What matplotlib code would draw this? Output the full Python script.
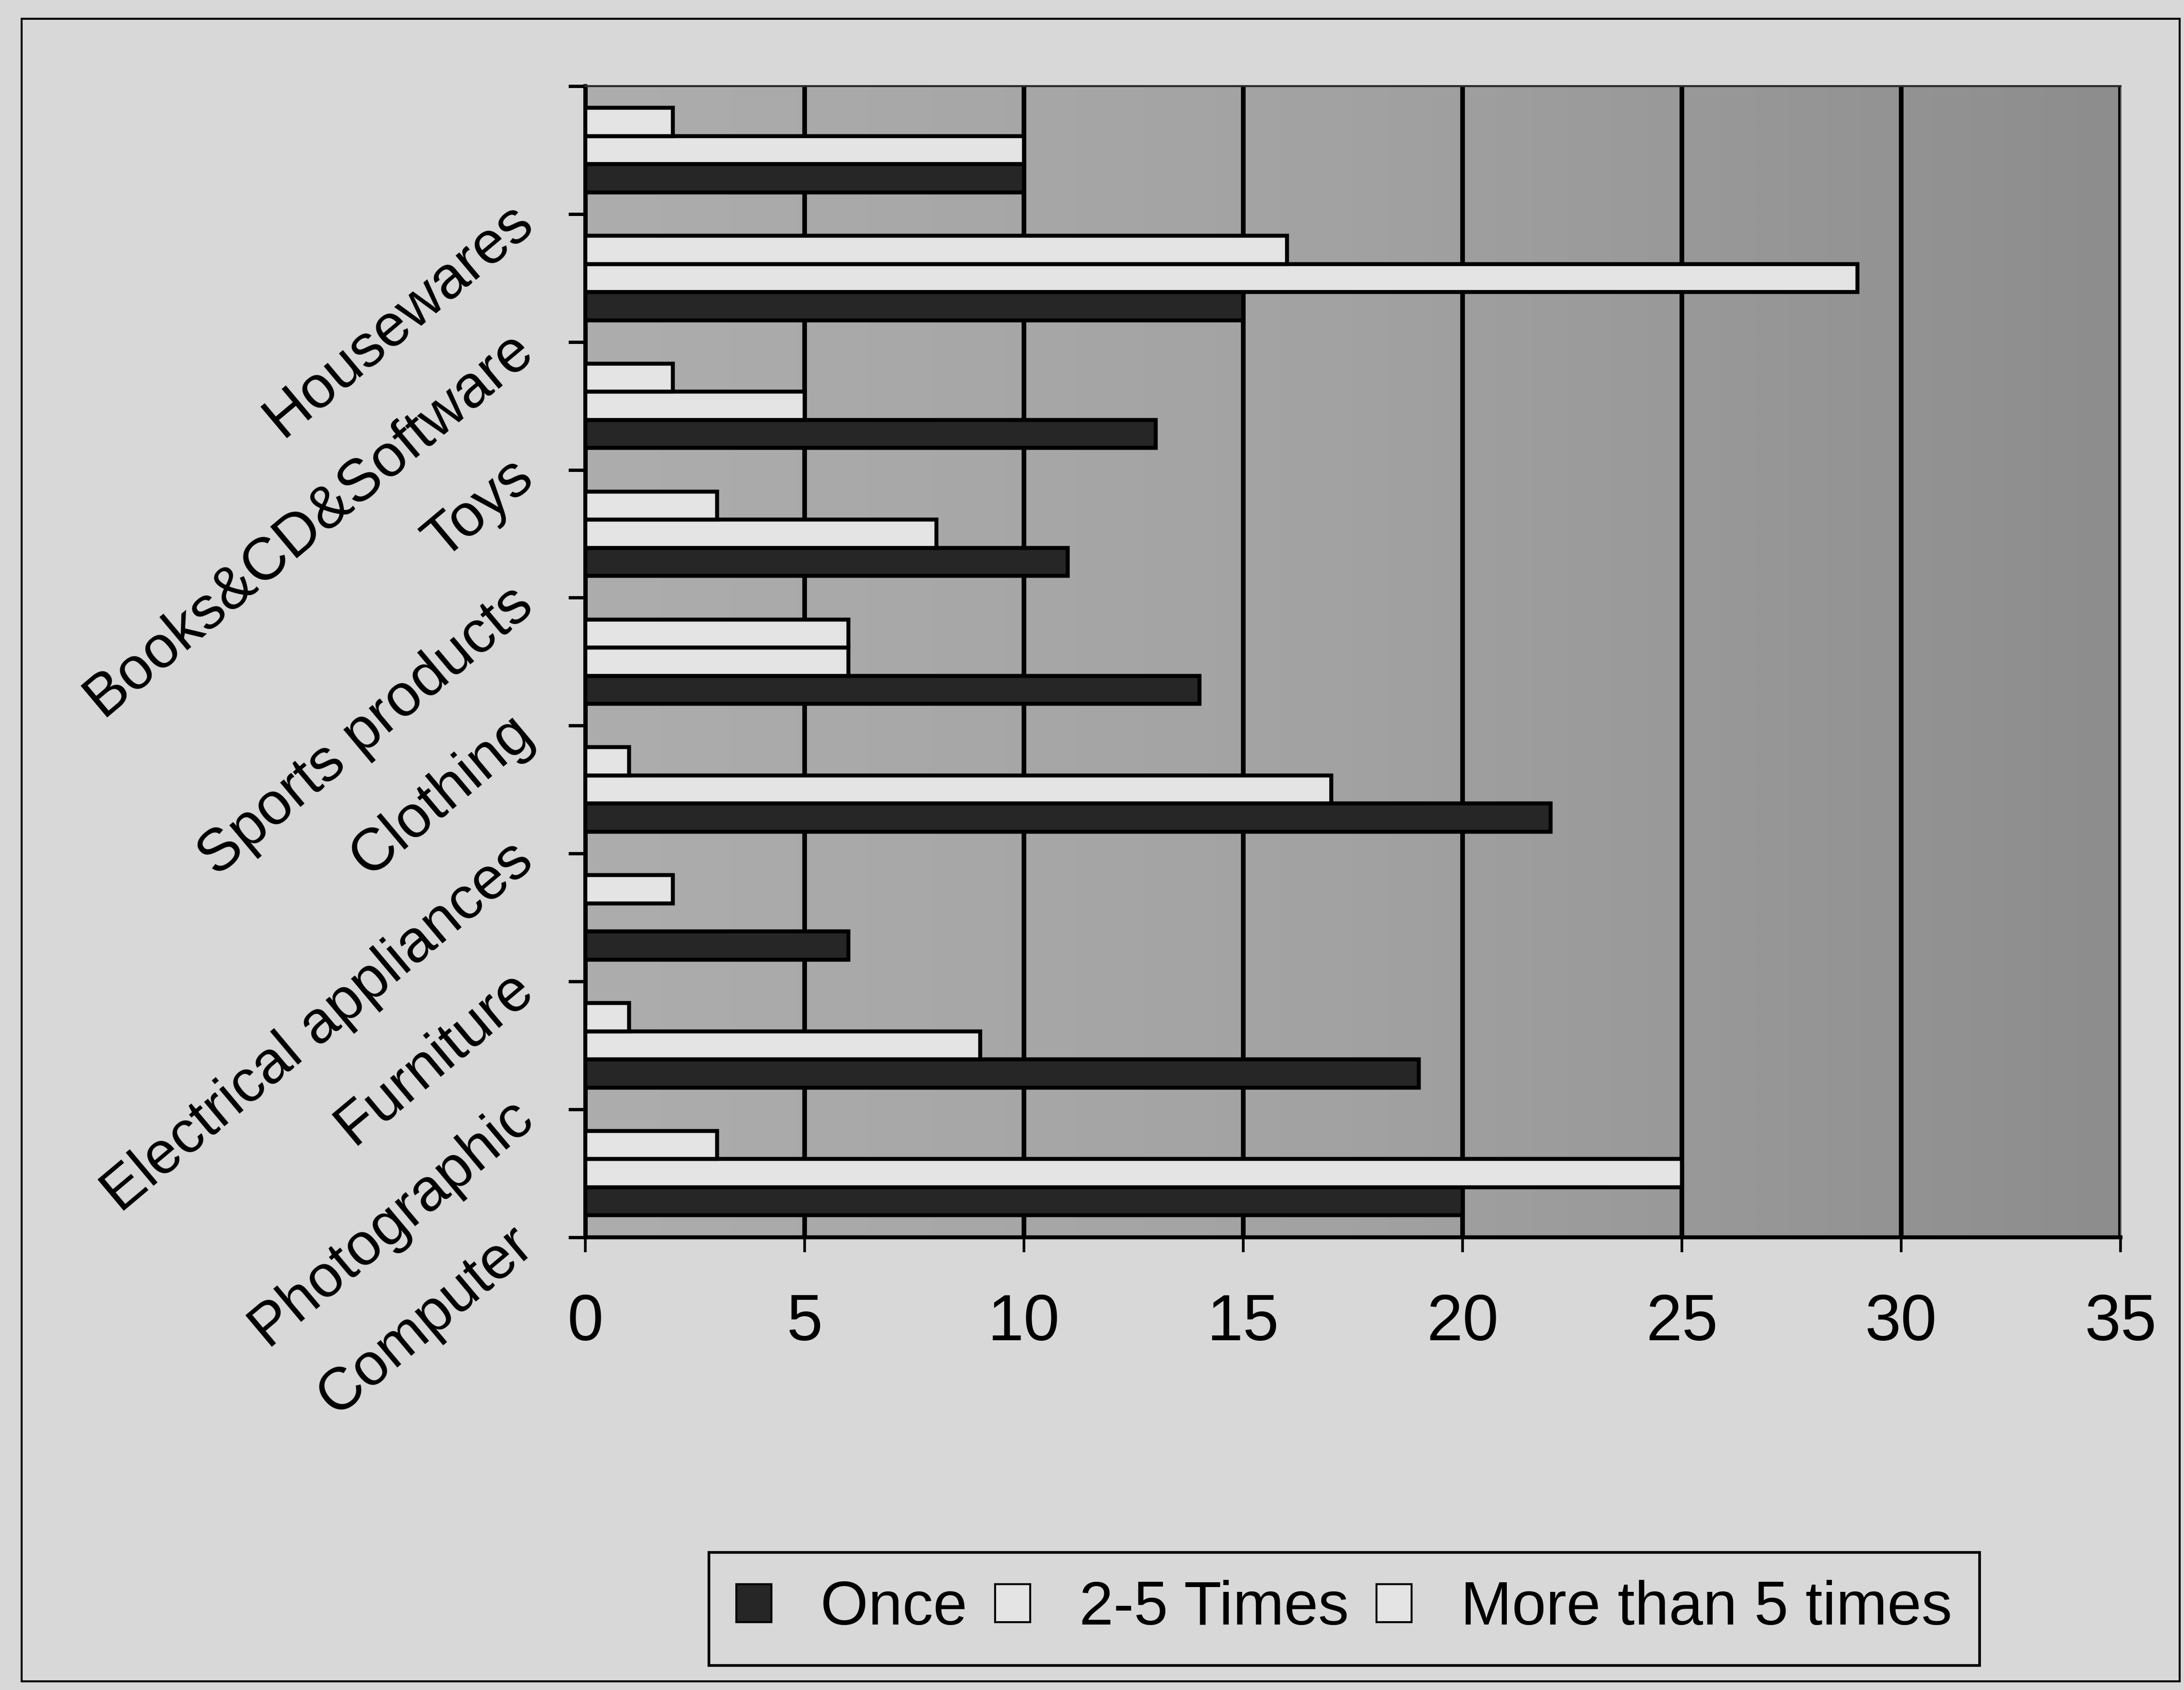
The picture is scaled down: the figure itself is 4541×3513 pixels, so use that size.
import numpy as np
import matplotlib
matplotlib.use("Agg")
import matplotlib.pyplot as plt
from matplotlib import font_manager
from matplotlib.colors import LinearSegmentedColormap
from matplotlib.patches import Rectangle

# Purchase frequency per product category (bottom to top)
categories = ["Computer", "Photographic", "Furniture", "Electrical appliances",
              "Clothing", "Sports products", "Toys", "Books&CD&Software", "Housewares"]
once = [20, 19, 6, 22, 14, 11, 13, 15, 10]
two_to_five = [25, 9, 0, 17, 6, 8, 5, 29, 10]
more_than_five = [3, 1, 2, 1, 6, 3, 2, 16, 2]
series_labels = ["Once", "2-5 Times", "More than 5 times"]
x_ticks = [0, 5, 10, 15, 20, 25, 30, 35]

installed = {f.name for f in font_manager.fontManager.ttflist}
base_font = "Liberation Sans" if "Liberation Sans" in installed else "DejaVu Sans"
plt.rcParams["font.family"] = [base_font, "DejaVu Sans"]

fig_bg = "#d8d8d8"
fig = plt.figure(figsize=(45.41, 35.13), dpi=100, facecolor=fig_bg)
ax = fig.add_axes([0.268, 0.268, 0.703, 0.681])

n = len(categories)
y = np.arange(n)
ymin, ymax = -0.5, n - 0.5
xmax = 35

# plot-area fill: grey shading that darkens to the right
shade = LinearSegmentedColormap.from_list("shade", ["#adadad", "#a2a2a2", "#8d8d8d"])
ax.imshow(np.linspace(0, 1, 512).reshape(1, -1), extent=[0, xmax, ymin, ymax],
          aspect="auto", cmap=shade, zorder=0, interpolation="bilinear")

h = 0.22
bar_kw = dict(height=h, edgecolor="black", linewidth=6, zorder=3)
ax.barh(y - h, once, color="#262626", label=series_labels[0], **bar_kw)
ax.barh(y, two_to_five, color="#e4e4e4", label=series_labels[1], **bar_kw)
ax.barh(y + h, more_than_five, color="#e4e4e4", label=series_labels[2], **bar_kw)

ax.set_xlim(0, xmax)
ax.set_ylim(ymin, ymax)
ax.set_axisbelow(True)
ax.xaxis.grid(True, color="black", linewidth=7)
ax.yaxis.grid(False)

ax.set_xticks(x_ticks)
ax.set_xticklabels([str(v) for v in x_ticks], fontsize=97)
ax.tick_params(axis="x", direction="out", length=22, width=4, pad=62, colors="black")

# category labels sit at the lower boundary of each group
boundaries = np.arange(n + 1) - 0.5
ax.set_yticks(boundaries)
ax.set_yticklabels(categories + [""], rotation=40, ha="right", va="center",
                   rotation_mode="anchor", fontsize=89)
ax.tick_params(axis="y", direction="out", length=25, width=5, pad=64, colors="black")

for side in ("left", "bottom"):
    ax.spines[side].set_linewidth(6)
    ax.spines[side].set_color("black")
ax.spines["top"].set_linewidth(3)
ax.spines["top"].set_color("#2a2a2a")
ax.spines["right"].set_linewidth(2)
ax.spines["right"].set_color("#555555")

leg = fig.legend(loc="center", bbox_to_anchor=(0.6155, 0.048), ncol=3, fontsize=92,
                 frameon=True, fancybox=False, edgecolor="black", facecolor=fig_bg,
                 handlelength=0.57, handleheight=0.57, handletextpad=0.8,
                 columnspacing=0.45, borderpad=0.45, framealpha=1)
leg.get_frame().set_linewidth(4)
for patch in leg.get_patches():
    patch.set_linewidth(3)

fig.add_artist(Rectangle((0.010, 0.005), 0.988, 0.984, transform=fig.transFigure,
                         fill=False, edgecolor="black", linewidth=3))

fig.savefig("out.png", dpi=100, facecolor=fig_bg)
